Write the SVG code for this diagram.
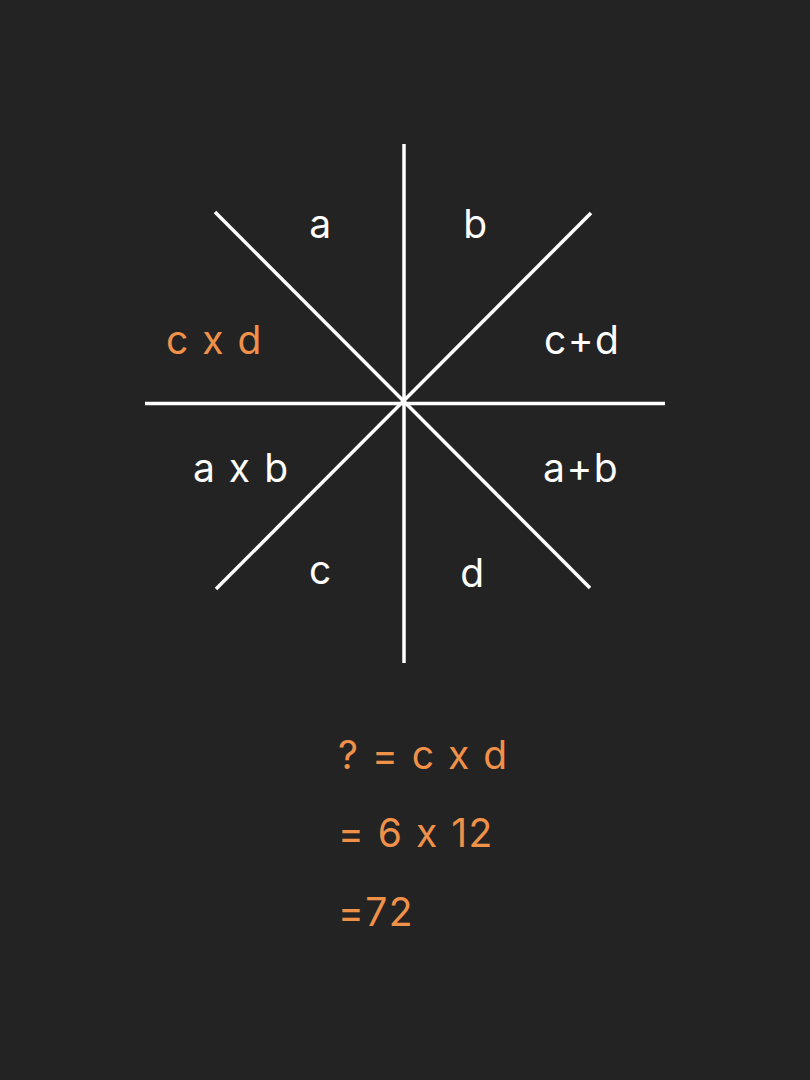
<svg xmlns="http://www.w3.org/2000/svg" width="810" height="1080" viewBox="0 0 810 1080">
<style>
.ln{stroke:#ffffff;stroke-width:3.5;fill:none}
.t{font-family:Inter,"Liberation Sans",sans-serif;font-size:39px;letter-spacing:1.5px}
.w{fill:#ffffff}
.o{fill:#F0914A}
</style>
<rect width="810" height="1080" fill="#232323"/>
<g id="connectors">
<line class="ln" x1="404" y1="144" x2="404" y2="663"/>
<line class="ln" x1="145" y1="403.5" x2="665" y2="403.5"/>
<line class="ln" x1="215" y1="212" x2="590" y2="588"/>
<line class="ln" x1="591" y1="213" x2="216" y2="589"/>
</g>
<g id="label-a"><text class="t w" x="321" y="238" text-anchor="middle">a</text></g>
<g id="label-b"><text class="t w" x="476" y="238" text-anchor="middle">b</text></g>
<g id="label-cxd"><text class="t o" x="166" y="354">c x d</text></g>
<g id="label-cpd"><text class="t w" x="544" y="354">c+d</text></g>
<g id="label-axb"><text class="t w" x="193" y="482">a x b</text></g>
<g id="label-apb"><text class="t w" x="543" y="482">a+b</text></g>
<g id="label-c"><text class="t w" x="321" y="584" text-anchor="middle">c</text></g>
<g id="label-d"><text class="t w" x="473" y="587" text-anchor="middle">d</text></g>
<g id="solution">
<text class="t o" x="338" y="769">? = c x d</text>
<text class="t o" x="338" y="847">= 6 x 12</text>
<text class="t o" x="338" y="926">=72</text>
</g>
</svg>
